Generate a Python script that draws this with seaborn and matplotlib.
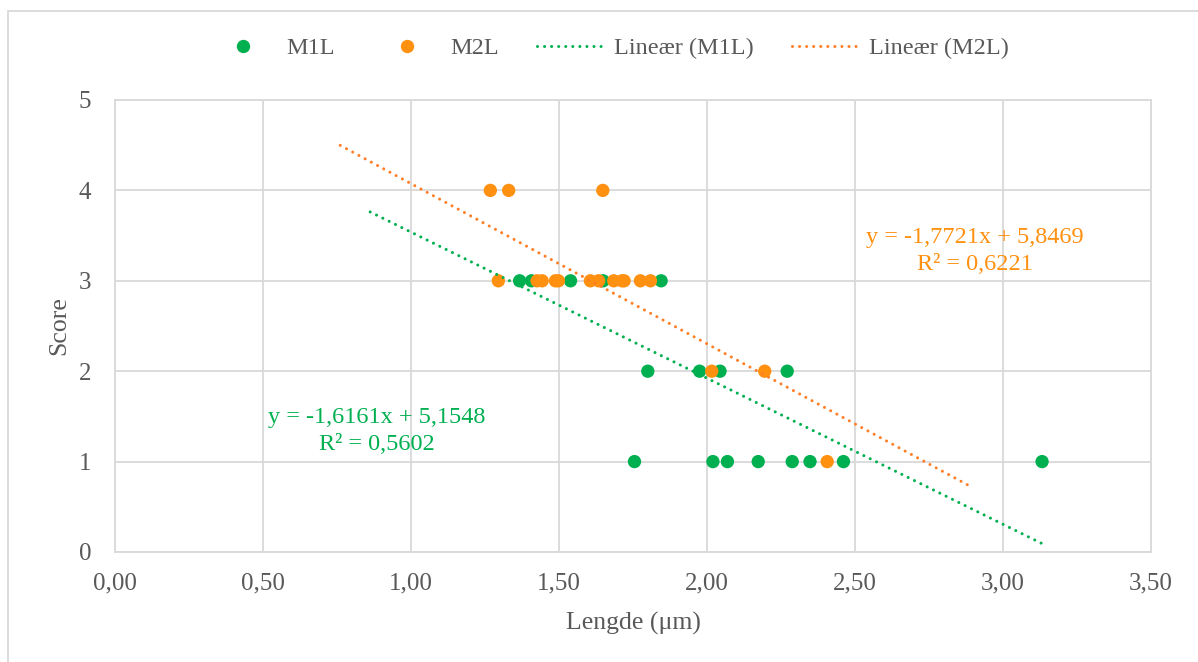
import numpy as np
import pandas as pd
import matplotlib.pyplot as plt
import seaborn as sns
from matplotlib.lines import Line2D
from matplotlib.patches import Rectangle

# data
m1l_x = [1.367, 1.407, 1.539, 1.649, 1.845,
         1.800, 1.975, 2.044, 2.271,
         1.755, 2.020, 2.069, 2.173, 2.288, 2.348, 2.461, 3.132]
m1l_y = [3, 3, 3, 3, 3,
         2, 2, 2, 2,
         1, 1, 1, 1, 1, 1, 1, 1]

m2l_x = [1.268, 1.330, 1.648,
         1.295, 1.426, 1.443, 1.488, 1.498, 1.606, 1.634, 1.685, 1.713, 1.720, 1.775, 1.809,
         2.016, 2.195,
         2.406]
m2l_y = [4, 4, 4,
         3, 3, 3, 3, 3, 3, 3, 3, 3, 3, 3, 3,
         2, 2,
         1]

# trend lines (Excel linear trendline, as labelled)
m1l_fit = (-1.6161, 5.1548)
m2l_fit = (-1.7721, 5.8469)
m1l_fit_range = [0.862, 3.148]
m2l_fit_range = [0.761, 2.891]
m1l_label = ["y = -1,6161x + 5,1548", "R² = 0,5602"]
m2l_label = ["y = -1,7721x + 5,8469", "R² = 0,6221"]

x_ticks = [0.0, 0.5, 1.0, 1.5, 2.0, 2.5, 3.0, 3.5]
y_ticks = [0, 1, 2, 3, 4, 5]

green = "#00B050"
orange = "#FF9010"
orange_line = "#FF7F27"
grid_col = "#D9D9D9"
text_col = "#595959"

sns.set_theme(style="white")
plt.rcParams["font.family"] = ["Liberation Serif", "DejaVu Serif"]

df = pd.concat([
    pd.DataFrame({"x": m1l_x, "y": m1l_y, "serie": "M1L"}),
    pd.DataFrame({"x": m2l_x, "y": m2l_y, "serie": "M2L"}),
])

W, H = 1198, 662
fig = plt.figure(figsize=(W / 100, H / 100), dpi=100)
ax = fig.add_axes([115 / W, 1 - 552 / H, 1036 / W, 452 / H])

sns.scatterplot(data=df, x="x", y="y", hue="serie", palette={"M1L": green, "M2L": orange},
                s=92, edgecolor="none", legend=False, ax=ax, zorder=3)

dots = (0, (0.01, 2.3))
for (a, b), rng, col in [(m1l_fit, m1l_fit_range, green), (m2l_fit, m2l_fit_range, orange_line)]:
    xs = np.array(rng)
    ax.plot(xs, a * xs + b, color=col, linewidth=2.2, linestyle=dots,
            dash_capstyle="round", zorder=4)

ax.set_xlim(0, 3.5)
ax.set_ylim(0, 5)
ax.set_xticks(x_ticks)
ax.set_xticklabels([f"{v:.2f}".replace(".", ",") for v in x_ticks])
ax.set_yticks(y_ticks)
ax.grid(True, color=grid_col, linewidth=1.3)
ax.set_axisbelow(True)
for sp in ax.spines.values():
    sp.set_color(grid_col)
    sp.set_linewidth(1.3)
ax.tick_params(axis="both", length=0, labelsize=18, labelcolor=text_col)
ax.tick_params(axis="x", pad=15)
ax.tick_params(axis="y", pad=17)
ax.set_xlabel("Lengde (μm)", fontsize=18.5, color=text_col, labelpad=12)
ax.set_ylabel("Score", fontsize=18.5, color=text_col, labelpad=6)

# trendline labels
for lines, cx, ys, col in [(m2l_label, 975, (238, 264), orange),
                           (m1l_label, 377, (418, 445), green)]:
    for txt, y in zip(lines, ys):
        fig.text(cx / W, 1 - y / H, txt, ha="center", va="center", fontsize=17.5, color=col)

handles = [
    Line2D([], [], linestyle="none", marker="o", markersize=9.6, color=green, markeredgewidth=0),
    Line2D([], [], linestyle="none", marker="o", markersize=9.6, color=orange, markeredgewidth=0),
    Line2D([], [], color=green, linewidth=2.2, linestyle=dots, dash_capstyle="round"),
    Line2D([], [], color=orange_line, linewidth=2.2, linestyle=dots, dash_capstyle="round"),
]
labels = ["M1L", "M2L", "Lineær (M1L)", "Lineær (M2L)"]
fig.legend(handles, labels, loc="center", bbox_to_anchor=(609 / W, 1 - 48 / H), ncol=4,
           frameon=False, fontsize=17.5, labelcolor=text_col, handlelength=2.76,
           columnspacing=1.56, handletextpad=0.41, borderpad=0)

# outer chart frame (only top/left visible in the crop)
fig.patches.append(Rectangle((8 / W, -0.2), 1.2, 1.2 - 11 / H, transform=fig.transFigure,
                             fill=False, edgecolor=grid_col, linewidth=1.3))

fig.savefig("out.png", dpi=100)
